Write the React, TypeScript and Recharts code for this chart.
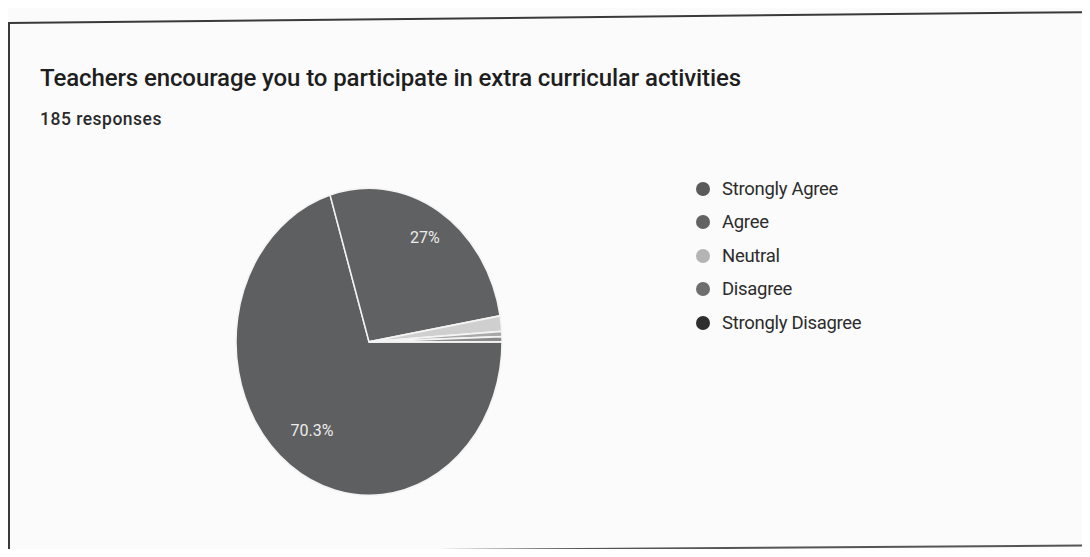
import { PieChart, Pie, Cell } from 'recharts';

const answers = ['Strongly Agree', 'Agree', 'Neutral', 'Disagree', 'Strongly Disagree'];
const responses = [130, 50, 3, 1, 1];
const sliceColors = ['#5e5f60', '#606162', '#cfcfcf', '#a8a8a8', '#8a8a8a'];
const dotColors = ['#5a5a5a', '#626262', '#b4b4b4', '#6e6e6e', '#2e2e2e'];

const pieData = answers.map((name, i) => ({ name, value: responses[i] }));
const total = responses.reduce((a, b) => a + b, 0);

// the scan squashed the pie into an ellipse
const STRETCH = 1.155;
const RAD = Math.PI / 180;

const renderLabel = (props: any) => {
  const { cx, cy, midAngle, outerRadius, value } = props;
  const pct = (value / total) * 100;
  if (pct < 5) return null;
  const r = outerRadius * (pct < 50 ? 0.8 : 0.72);
  const x = cx + r * Math.cos(-midAngle * RAD);
  const y = cy + r * Math.sin(-midAngle * RAD);
  return (
    <text
      x={x}
      y={y}
      fill="#ececec"
      fontSize={16}
      fontFamily="Roboto, Arial, sans-serif"
      textAnchor="middle"
      dominantBaseline="central"
      transform={`translate(${x} ${y}) scale(1 ${1 / STRETCH}) translate(${-x} ${-y})`}
    >
      {`${Number(pct.toFixed(1))}%`}
    </text>
  );
};

export default function App() {
  return (
    <div
      style={{
        position: 'relative',
        margin: -8,
        width: 1090,
        height: 557,
        background: '#fbfbfb',
        overflow: 'hidden',
        fontFamily: 'Roboto, Arial, sans-serif',
      }}
    >
      {/* card frame (scan is slightly tilted) */}
      <div
        style={{
          position: 'absolute',
          left: 8,
          top: 22,
          width: 1100,
          height: 0,
          borderTop: '2px solid #3a3a3a',
          transform: 'rotate(-0.58deg)',
          transformOrigin: '0 0',
        }}
      />
      <div
        style={{
          position: 'absolute',
          left: 8,
          top: 22,
          width: 0,
          height: 540,
          borderLeft: '2px solid #3a3a3a',
        }}
      />
      <div
        style={{
          position: 'absolute',
          left: 8,
          top: 552,
          width: 1100,
          height: 0,
          borderTop: '2px solid #555',
          transform: 'rotate(-0.4deg)',
          transformOrigin: '0 0',
        }}
      />

      <div
        style={{
          position: 'absolute',
          left: 40,
          top: 64,
          fontSize: 24,
          fontWeight: 500,
          color: '#1e1e1e',
          letterSpacing: -0.1,
        }}
      >
        Teachers encourage you to participate in extra curricular activities
      </div>
      <div
        style={{
          position: 'absolute',
          left: 40,
          top: 109,
          fontSize: 17.5,
          fontWeight: 500,
          color: '#2a2a2a',
          letterSpacing: 0.5,
        }}
      >
        {total} responses
      </div>

      <div
        style={{
          position: 'absolute',
          left: 214,
          top: 166,
          width: 300,
          height: 340,
          transform: `scaleY(${STRETCH})`,
          transformOrigin: '150px 170px',
        }}
      >
        <PieChart width={300} height={340}>
          <Pie
            data={pieData}
            dataKey="value"
            nameKey="name"
            cx={150}
            cy={170}
            outerRadius={133}
            startAngle={0}
            endAngle={-360}
            stroke="#f4f4f4"
            strokeWidth={1.5}
            label={renderLabel}
            labelLine={false}
            isAnimationActive={false}
          >
            {pieData.map((d, i) => (
              <Cell key={d.name} fill={sliceColors[i]} />
            ))}
          </Pie>
        </PieChart>
      </div>

      <div style={{ position: 'absolute', left: 696, top: 172 }}>
        {answers.map((name, i) => (
          <div
            key={name}
            style={{ display: 'flex', alignItems: 'center', height: 33.5 }}
          >
            <span
              style={{
                width: 14,
                height: 14,
                borderRadius: '50%',
                background: dotColors[i],
                marginRight: 12,
              }}
            />
            <span style={{ fontSize: 18.5, color: '#2c2c2c', letterSpacing: -0.3 }}>
              {name}
            </span>
          </div>
        ))}
      </div>
    </div>
  );
}
